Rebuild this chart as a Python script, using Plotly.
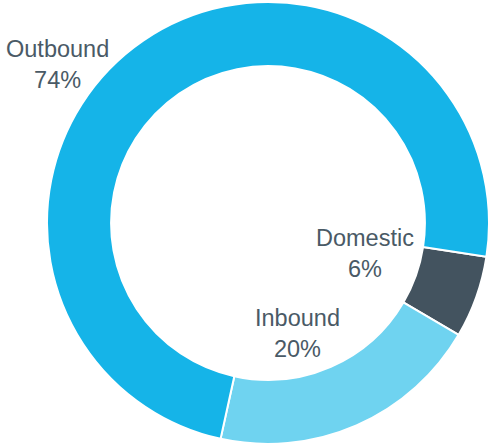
import plotly.graph_objects as go

labels = ["Domestic", "Inbound", "Outbound"]
values = [6, 20, 74]
colors = ["#43535f", "#6fd3f0", "#15b4e8"]
label_pos = [(365, 253), (297, 333), (57, 65)]  # pixel centers of labels

W, H = 493, 446
fig = go.Figure(go.Pie(
    labels=labels, values=values, sort=False, direction="clockwise",
    rotation=98.8, hole=0.71,
    marker=dict(colors=colors, line=dict(color="white", width=2)),
    textinfo="none", hoverinfo="label+percent", showlegend=False,
    domain=dict(x=[47/W, 489/W], y=[1-444/H, 1-2/H]),
))
for lab, val, (px, py) in zip(labels, values, label_pos):
    fig.add_annotation(x=px/W, y=1-py/H, xref="paper", yref="paper",
                       text=f"{lab}<br>{val}%", showarrow=False,
                       font=dict(family="Liberation Sans, Arial", size=23.5, color="#4a5a66"),
                       xanchor="center", yanchor="middle")
fig.update_layout(width=W, height=H, margin=dict(l=0, r=0, t=0, b=0),
                  paper_bgcolor="white", plot_bgcolor="white")
fig.write_html("out.html")
